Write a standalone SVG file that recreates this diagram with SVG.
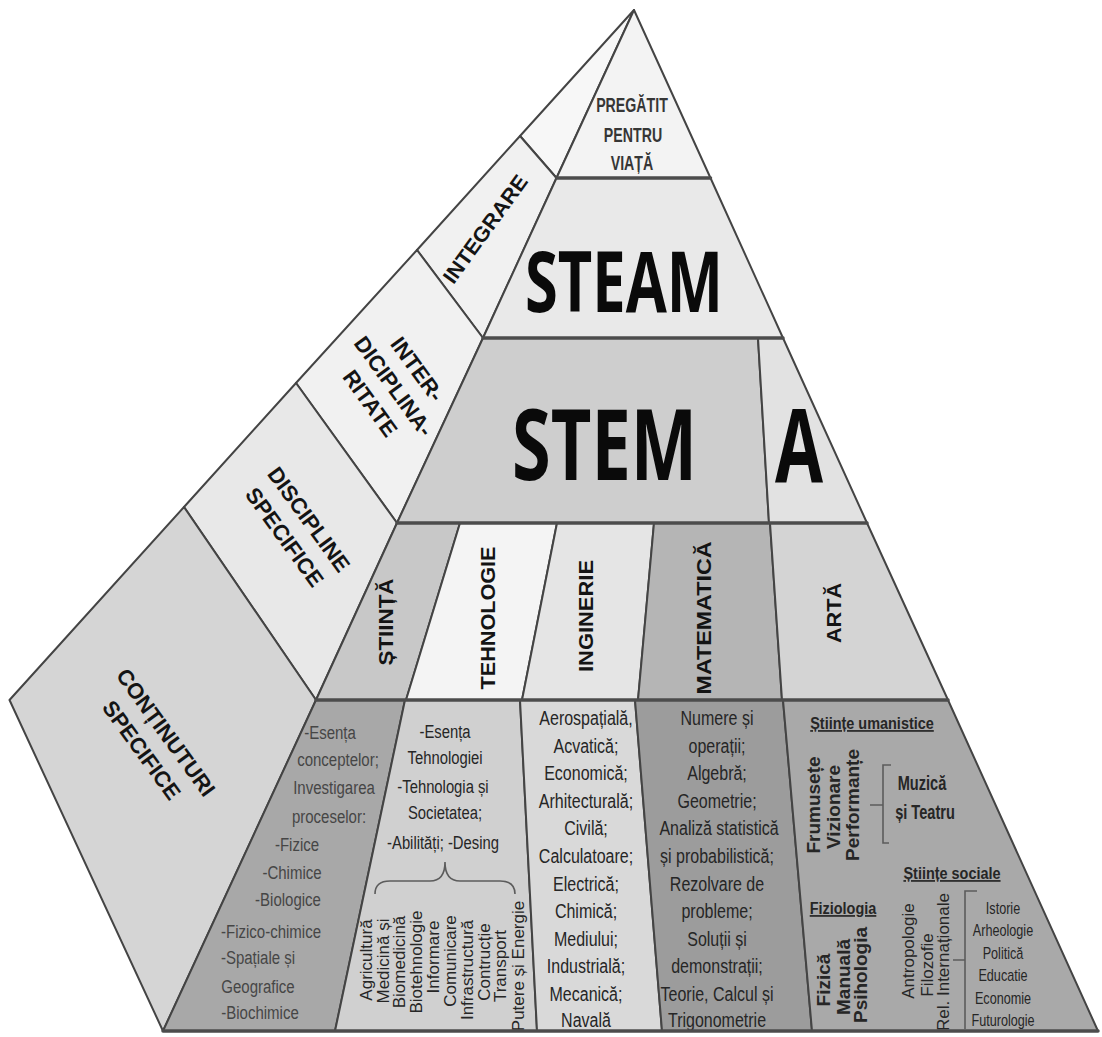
<svg xmlns="http://www.w3.org/2000/svg" width="1102" height="1037" viewBox="0 0 1102 1037">
<style>
.face{stroke:#444444;stroke-width:2;stroke-linejoin:round}
.band{stroke:#4c4c4c;stroke-width:3.5;stroke-linecap:round}
.lb{font-family:"Liberation Sans",Arial,sans-serif;font-weight:bold;text-anchor:middle;dominant-baseline:central;fill:#141414}
.big{font-family:"Open Sans","Liberation Sans",sans-serif;font-weight:bold;text-anchor:middle;fill:#0a0a0a}
.c{font-family:"Liberation Sans",Arial,sans-serif;text-anchor:middle;fill:#262626}
.r{dominant-baseline:central}
.sci{fill:#464646}
.b{font-weight:bold}
.u{text-decoration:underline}
.f16{font-size:16px}.f17{font-size:17px}.f18{font-size:18px}.f19{font-size:19px}.f20{font-size:20px}.f21{font-size:21px}.f22{font-size:22px}
.br{stroke:#5c5c5c;stroke-width:1.6;fill:none}
</style>
<rect width="1102" height="1037" fill="#ffffff"/>

<!-- left face -->
<g id="side-top"><polygon class="face" fill="#f7f7f7" points="634,10 520,136 556.5,178"/></g>
<g id="integrare">
<polygon class="face" fill="#f1f1f1" points="520,136 417,250 483,338 556.5,178"/>
<text class="lb f21" transform="translate(485 229) rotate(-54)" textLength="128" lengthAdjust="spacingAndGlyphs">INTEGRARE</text>
</g>
<g id="interdisciplinaritate">
<polygon class="face" fill="#f1f1f1" points="417,250 296,383 397,523 483,338"/>
<text class="lb f22" transform="translate(394 386) rotate(54)"><tspan x="0" y="-29">INTER-</tspan><tspan x="0" y="0">DICIPLINA-</tspan><tspan x="0" y="29">RITATE</tspan></text>
</g>
<g id="discipline-specifice">
<polygon class="face" fill="#e8e8e8" points="296,383 184,507 316,700 397,523"/>
<text class="lb f22" transform="translate(297 528) rotate(54)"><tspan x="0" y="-15">DISCIPLINE</tspan><tspan x="0" y="15">SPECIFICE</tspan></text>
</g>
<g id="continuturi-specifice">
<polygon class="face" fill="#d5d5d5" points="184,507 9.5,700 163,1031 316,700"/>
<text class="lb f22" transform="translate(154 741) rotate(54)"><tspan x="0" y="-15">CONȚINUTURI</tspan><tspan x="0" y="15">SPECIFICE</tspan></text>
</g>

<!-- front face -->
<g id="pregatit">
<polygon class="face" fill="#f3f3f3" points="634,10 556.5,178 710.5,178"/>
<g font-family="Liberation Sans, Arial, sans-serif" font-weight="bold" font-size="20" fill="#363636" text-anchor="middle">
<text transform="translate(632 112) scale(0.71 1)">PREGĂTIT</text>
<text transform="translate(633 142) scale(0.71 1)">PENTRU</text>
<text transform="translate(632 170) scale(0.71 1)">VIAȚĂ</text>
</g>
</g>
<g id="steam">
<polygon class="face" fill="#e9e9e9" points="556.5,178 710.5,178 783,338 483,338"/>
<text class="big" x="624" y="312" font-size="84" textLength="198" lengthAdjust="spacingAndGlyphs">STEAM</text>
</g>
<g id="stem">
<polygon class="face" fill="#cecece" points="483,338 758,338 769,523 397,523"/>
<text class="big" x="604.5" y="480" font-size="98" textLength="185" lengthAdjust="spacingAndGlyphs">STEM</text>
</g>
<g id="a">
<polygon class="face" fill="#e2e2e2" points="758,338 783,338 867,523 769,523"/>
<text class="big" x="799" y="482" font-size="103" textLength="48" lengthAdjust="spacingAndGlyphs">A</text>
</g>

<g id="col-stiinta">
<polygon class="face" fill="#c8c8c8" points="397,523 460,523 406,700 316,700"/>
<text class="lb f21" transform="translate(385 622) rotate(-90)" textLength="87" lengthAdjust="spacingAndGlyphs">ȘTIINȚĂ</text>
</g>
<g id="col-tehnologie">
<polygon class="face" fill="#f4f4f4" points="460,523 557,523 522,700 406,700"/>
<text class="lb f21" transform="translate(487 618) rotate(-90)" textLength="143" lengthAdjust="spacingAndGlyphs">TEHNOLOGIE</text>
</g>
<g id="col-inginerie">
<polygon class="face" fill="#e5e5e5" points="557,523 654,523 638,700 522,700"/>
<text class="lb f21" transform="translate(585 616) rotate(-90)" textLength="112" lengthAdjust="spacingAndGlyphs">INGINERIE</text>
</g>
<g id="col-matematica">
<polygon class="face" fill="#b5b5b5" points="654,523 770,523 782,700 638,700"/>
<text class="lb f21" transform="translate(703 618) rotate(-90)" textLength="153" lengthAdjust="spacingAndGlyphs">MATEMATICĂ</text>
</g>
<g id="col-arta">
<polygon class="face" fill="#d4d4d4" points="770,523 867,523 948,700 782,700"/>
<text class="lb f21" transform="translate(833 613) rotate(-90)" textLength="60" lengthAdjust="spacingAndGlyphs">ARTĂ</text>
</g>

<g id="cont-stiinta">
<polygon class="face" fill="#a8a8a8" points="316,700 405,700 335,1031 163,1031"/>
<g class="c sci f19">
<text transform="translate(330 739) scale(0.79 1)">-Esența</text>
<text transform="translate(338 766) scale(0.79 1)">conceptelor;</text>
<text transform="translate(334 794) scale(0.79 1)">Investigarea</text>
<text transform="translate(329 823) scale(0.79 1)">proceselor:</text>
<text transform="translate(297 851) scale(0.79 1)">-Fizice</text>
<text transform="translate(292 879) scale(0.79 1)">-Chimice</text>
<text transform="translate(288 906) scale(0.79 1)">-Biologice</text>
<text transform="translate(271 938) scale(0.79 1)">-Fizico-chimice</text>
<text transform="translate(258 964) scale(0.79 1)">-Spațiale și</text>
<text transform="translate(258 993) scale(0.79 1)">Geografice</text>
<text transform="translate(260 1019) scale(0.79 1)">-Biochimice</text>
</g>
</g>

<g id="cont-tehnologie">
<polygon class="face" fill="#d0d0d0" points="405,700 520,700 537,1031 335,1031"/>
<g class="c f19">
<text transform="translate(445 738) scale(0.78 1)">-Esența</text>
<text transform="translate(445 764) scale(0.78 1)">Tehnologiei</text>
<text transform="translate(443 793) scale(0.78 1)">-Tehnologia și</text>
<text transform="translate(445 819) scale(0.78 1)">Societatea;</text>
<text transform="translate(443 849) scale(0.78 1)">-Abilități; -Desing</text>
</g>
<g class="c r f17">
<text transform="translate(366 960) rotate(-90)">Agricultură</text>
<text transform="translate(383 961) rotate(-90)">Medicină și</text>
<text transform="translate(399 962) rotate(-90)">Biomedicină</text>
<text transform="translate(416 962) rotate(-90)">Biotehnologie</text>
<text transform="translate(433 957) rotate(-90)">Informare</text>
<text transform="translate(450 961) rotate(-90)">Comunicare</text>
<text transform="translate(467 970) rotate(-90)">Infrastructură</text>
<text transform="translate(484 962) rotate(-90)">Contrucție</text>
<text transform="translate(500 966) rotate(-90)">Transport</text>
<text transform="translate(518 966) rotate(-90)">Putere și Energie</text>
</g>
</g>

<g id="cont-inginerie">
<polygon class="face" fill="#d9d9d9" points="520,700 635,700 662,1031 537,1031"/>
<g class="c f20">
<text transform="translate(586 725) scale(0.8 1)">Aerospațială,</text>
<text transform="translate(586 752.6) scale(0.8 1)">Acvatică;</text>
<text transform="translate(586 780.2) scale(0.8 1)">Economică;</text>
<text transform="translate(586 807.8) scale(0.8 1)">Arhitecturală;</text>
<text transform="translate(586 835.4) scale(0.8 1)">Civilă;</text>
<text transform="translate(586 863) scale(0.8 1)">Calculatoare;</text>
<text transform="translate(586 890.6) scale(0.8 1)">Electrică;</text>
<text transform="translate(586 918.2) scale(0.8 1)">Chimică;</text>
<text transform="translate(586 945.8) scale(0.8 1)">Mediului;</text>
<text transform="translate(586 973.4) scale(0.8 1)">Industrială;</text>
<text transform="translate(586 1001) scale(0.8 1)">Mecanică;</text>
<text transform="translate(586 1027) scale(0.8 1)">Navală</text>
</g>
</g>

<g id="cont-matematica">
<polygon class="face" fill="#9c9c9c" points="635,700 783,700 812,1031 662,1031"/>
<g class="c f20" fill="#2a2a2a">
<text transform="translate(717 725) scale(0.8 1)">Numere și</text>
<text transform="translate(717 752.6) scale(0.8 1)">operații;</text>
<text transform="translate(717 780.2) scale(0.8 1)">Algebră;</text>
<text transform="translate(717 807.8) scale(0.8 1)">Geometrie;</text>
<text transform="translate(719 835.4) scale(0.8 1)">Analiză statistică</text>
<text transform="translate(717 863) scale(0.8 1)">și probabilistică;</text>
<text transform="translate(717 890.6) scale(0.8 1)">Rezolvare de</text>
<text transform="translate(717 918.2) scale(0.8 1)">probleme;</text>
<text transform="translate(717 945.8) scale(0.8 1)">Soluții și</text>
<text transform="translate(717 973.4) scale(0.8 1)">demonstrații;</text>
<text transform="translate(717 1001) scale(0.8 1)">Teorie, Calcul și</text>
<text transform="translate(717 1027) scale(0.8 1)">Trigonometrie</text>
</g>
</g>

<g id="cont-arta">
<polygon class="face" fill="#a9a9a9" points="783,700 948,700 1098,1031 812,1031"/>
<g class="c b u f17" fill="#1a1a1a">
<text transform="translate(872 729) scale(0.85 1)">Științe umanistice</text>
<text transform="translate(952 879) scale(0.85 1)">Științe sociale</text>
<text transform="translate(843 914) scale(0.85 1)">Fiziologia</text>
</g>
<g class="c b r f19" fill="#1e1e1e">
<text transform="translate(813 805) rotate(-90)">Frumusețe</text>
<text transform="translate(833 807) rotate(-90)">Vizionare</text>
<text transform="translate(852 805) rotate(-90)">Performanțe</text>
<text transform="translate(823 980) rotate(-90)">Fizică</text>
<text transform="translate(843 977) rotate(-90)">Manuală</text>
<text transform="translate(860 975) rotate(-90)">Psihologia</text>
</g>
<g class="c b f20" fill="#1a1a1a">
<text transform="translate(922 790) scale(0.73 1)">Muzică</text>
<text transform="translate(925 819) scale(0.73 1)">și Teatru</text>
</g>
<g class="c r f17" fill="#222">
<text transform="translate(908 951) rotate(-90)">Antropologie</text>
<text transform="translate(927 965) rotate(-90)">Filozofie</text>
<text transform="translate(943 962) rotate(-90)">Rel. Internaționale</text>
</g>
<g class="c f16" fill="#262626">
<text transform="translate(1003 914) scale(0.79 1)">Istorie</text>
<text transform="translate(1003 936) scale(0.79 1)">Arheologie</text>
<text transform="translate(1003 959) scale(0.79 1)">Politică</text>
<text transform="translate(1003 981) scale(0.79 1)">Educatie</text>
<text transform="translate(1003 1004) scale(0.79 1)">Economie</text>
<text transform="translate(1003 1026) scale(0.79 1)">Futurologie</text>
</g>
</g>

<g id="band-lines">
<line class="band" x1="556.5" y1="178" x2="710.5" y2="178"/>
<line class="band" x1="483" y1="338" x2="783" y2="338"/>
<line class="band" x1="397" y1="523" x2="867" y2="523"/>
<line class="band" x1="316" y1="700" x2="948" y2="700"/>
<line class="band" x1="163" y1="1031" x2="1098" y2="1031"/>
</g>

<g id="connectors">
<path class="br" d="M375,894 Q375,881 390,881 L430,881 Q445,881 445,862 Q445,881 460,881 L500,881 Q515,881 515,894"/>
<path class="br" d="M891,765 L883,765 L883,843 L889,843 M870,805 L883,805"/>
<path class="br" d="M977,891 L965,891 L965,1029 M953,960 L965,960"/>
</g>
</svg>
